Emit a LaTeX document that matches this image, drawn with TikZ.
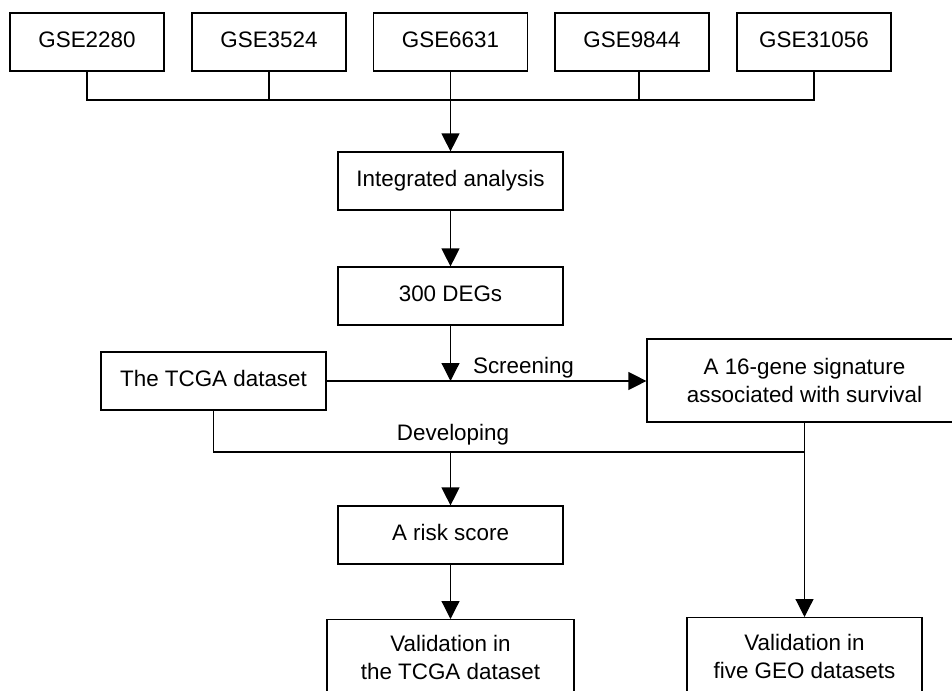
\documentclass[tikz,border=0pt]{standalone}
\usepackage{fontspec}
\setmainfont{Liberation Sans}
\usetikzlibrary{arrows.meta,calc}
\begin{document}
\begin{tikzpicture}[x=1pt,y=-1pt,
  every node/.style={font=\fontsize{22.4}{27.5}\selectfont},
  box/.style={draw,line width=1.2pt,inner sep=0pt,align=center},
  one/.style={text height=16pt,text depth=4.6pt},
  arr/.style={line width=1.2pt,-{Triangle[width=18pt,length=18pt]}},
  ln/.style={line width=1.2pt}]
\useasboundingbox (0,0) rectangle (952,690);
\clip (0,0) rectangle (952,690);
% top row
\node[box,one,minimum width=154pt,minimum height=58pt] (g1) at (87,42) {GSE2280};
\node[box,one,minimum width=154pt,minimum height=58pt] (g2) at (269,42) {GSE3524};
\node[box,one,minimum width=154pt,minimum height=58pt] (g3) at (450.5,42) {GSE6631};
\node[box,one,minimum width=154pt,minimum height=58pt] (g4) at (632,42) {GSE9844};
\node[box,one,minimum width=154pt,minimum height=58pt] (g5) at (814,42) {GSE31056};
% middle
\node[box,one,minimum width=225pt,minimum height=58pt] (integ) at (450.5,181) {Integrated analysis};
\node[box,one,minimum width=225pt,minimum height=58pt] (degs) at (450.5,296) {300 DEGs};
\node[box,one,minimum width=225pt,minimum height=58pt] (tcga) at (213.5,381) {The TCGA dataset};
\node[box,minimum width=315pt,minimum height=83pt] (sig) at (804.5,380.5) {A 16-gene signature\\associated with survival};
\node[box,one,minimum width=225pt,minimum height=58pt] (risk) at (450.5,535) {A risk score};
% bottom (cut off by the page edge)
\node[box,anchor=north,minimum width=247pt,minimum height=76pt] (valt) at (450.5,619) {Validation in\\the TCGA dataset};
\node[box,anchor=north,minimum width=235pt,minimum height=78pt] (valg) at (804.5,617) {Validation in\\five GEO datasets};
% coordinates
\coordinate (bus) at (450.5,100);
\coordinate (scr) at (450.5,381);
\coordinate (dev) at (450.5,452);
% connectors
\draw[ln] (g1.south) |- (bus) -| (g5.south);
\draw[ln] (g2.south) -- (g2.south |- bus);
\draw[ln] ([xshift=7pt]g4.south) -- ([xshift=7pt]g4.south |- bus);
\draw[arr] (g3.south) -- (integ.north);
\draw[arr] (integ.south) -- (degs.north);
\draw[arr] (degs.south) -- (scr);
\draw[arr] (tcga.east) -- (tcga.east -| sig.west);
\draw[ln] (tcga.south) |- (sig.south |- dev);
\draw[arr] (sig.south) -- (valg.north);
\draw[arr] (dev) -- (risk.north);
\draw[arr] (risk.south) -- (valt.north);
% labels
\node[anchor=base] (lscr) at (523.5,373.5) {Screening};
\node[anchor=base] (ldev) at (453,440.5) {Developing};
\end{tikzpicture}
\end{document}
